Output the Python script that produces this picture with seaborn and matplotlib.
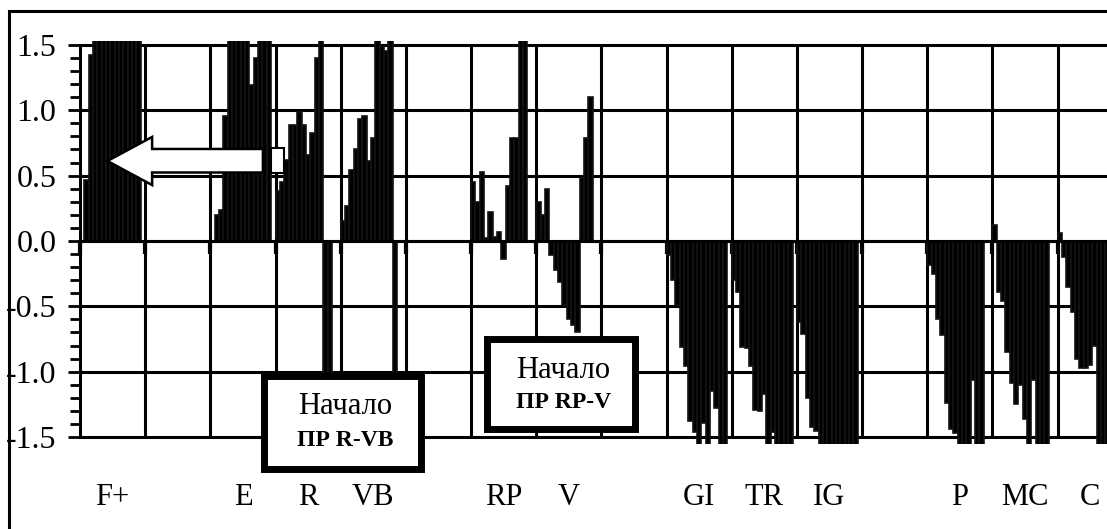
import numpy as np
import pandas as pd
import seaborn as sns
import matplotlib.pyplot as plt
from matplotlib.patches import Rectangle, Polygon

# category slots along the axis (blank ones are spacer columns)
categories = ["F+", "", "E", "R", "VB", "", "RP", "V", "", "GI", "TR", "IG", "", "P", "MC", "C"]

# 15 bars per slot (anything past +-1.5 is clipped by the axis)
f_plus = [0.0, 0.47, 1.42, 1.9, 2.2, 2.0, 2.4, 1.8, 2.1, 2.3, 1.9, 2.0, 1.7, 1.8, 0.0]
e_vals = [0.0, 0.20, 0.24, 0.96, 1.8, 2.1, 1.9, 2.2, 1.7, 1.19, 1.40, 1.9, 2.0, 1.7, 0.0]
r_vals = [0.38, 0.45, 0.62, 0.89, 0.89, 0.99, 0.89, 0.66, 0.83, 1.40, 1.8, -1.8, -1.9, 0.0, 0.0]
vb_vals = [0.15, 0.27, 0.54, 0.70, 0.93, 0.96, 0.61, 0.79, 1.8, 1.49, 1.45, 1.9, -1.8, 0.0, 0.0]
rp_vals = [0.45, 0.30, 0.53, 0.02, 0.22, 0.03, 0.07, -0.14, 0.42, 0.79, 0.79, 1.9, 1.7, 0.0, 0.0]
v_vals = [0.30, 0.20, 0.40, -0.11, -0.22, -0.31, -0.49, -0.60, -0.64, -0.70, 0.48, 0.79, 1.10, 0.0, 0.0]
gi_vals = [-0.11, -0.30, -0.49, -0.81, -0.96, -1.38, -1.46, -1.8, -1.39, -1.9, -1.15, -1.28, -1.7, -1.8, 0.0]
tr_vals = [-0.30, -0.39, -0.81, -0.82, -0.96, -1.29, -1.30, -1.17, -1.8, -1.46, -1.9, -1.7, -2.0, -1.8, 0.0]
ig_vals = [-0.62, -0.71, -1.20, -1.42, -1.45, -1.8, -2.0, -1.9, -2.2, -1.8, -2.1, -1.9, -1.7, -1.8, 0.0]
p_vals = [-0.18, -0.25, -0.60, -0.72, -1.24, -1.44, -1.47, -1.8, -2.0, -1.7, -1.06, -1.9, -1.8, 0.0, 0.0]
mc_vals = [0.12, -0.39, -0.46, -0.85, -1.09, -1.25, -1.10, -1.36, -1.8, -1.06, -1.9, -2.0, -1.7, 0.0, 0.0]
c_vals = [0.06, -0.12, -0.35, -0.54, -0.90, -0.97, -0.97, -0.95, -0.80, -1.7, -1.8, -1.6, -1.4, 0.0, 0.0]
blank = [0.0] * 15

yticks = [-1.5, -1.0, -0.5, 0.0, 0.5, 1.0, 1.5]
ytick_labels = ["-1.5", "-1.0", "-0.5", "0.0", "0.5", "1.0", "1.5"]

slots = [f_plus, blank, e_vals, r_vals, vb_vals, blank, rp_vals, v_vals, blank,
         gi_vals, tr_vals, ig_vals, blank, p_vals, mc_vals, c_vals]
n_per = 15
values = [val for slot in slots for val in slot]
df = pd.DataFrame({"x": np.arange(len(values)), "value": values})

sns.set_theme(style="white")
plt.rcParams["font.family"] = ["Liberation Serif", "DejaVu Serif"]
plt.rcParams["axes.unicode_minus"] = False

W, H = 1107, 529
fig = plt.figure(figsize=(W / 100, H / 100), dpi=100)
ax = fig.add_axes([80 / W, 1 - 443.6 / H, 1042.7 / W, 402.6 / H])

sns.barplot(data=df, x="x", y="value", native_scale=True, width=1.0, color="black",
            edgecolor="#141414", linewidth=1.2, errorbar=None, ax=ax, zorder=2)

bounds = np.arange(len(categories) + 1) * n_per - 0.5
ax.set_xlim(bounds[0], bounds[-1])
ax.set_ylim(-1.55, 1.53)
ax.set_xlabel("")
ax.set_ylabel("")

# grid
ax.vlines(bounds[1:], -1.5, 1.5, color="black", lw=2.2, zorder=1)
ax.hlines(yticks, bounds[0], bounds[-1], color="black", lw=2.2, zorder=1)

# axes
for s in ["top", "right"]:
    ax.spines[s].set_visible(False)
ax.spines["left"].set_bounds(-1.5, 1.5)
ax.spines["left"].set_linewidth(2.2)
ax.spines["left"].set_color("black")
ax.spines["bottom"].set_position(("data", 0))
ax.spines["bottom"].set_linewidth(2.2)
ax.spines["bottom"].set_color("black")

ax.set_yticks(yticks)
ax.set_yticklabels(ytick_labels)
ax.set_yticks(np.round(np.arange(-1.5, 1.51, 0.1), 2), minor=True)
ax.tick_params(axis="y", which="major", left=True, direction="out", length=9, width=2,
               labelsize=23, pad=8, colors="black")
ax.tick_params(axis="y", which="minor", left=True, direction="out", length=7, width=2,
               colors="black")
ax.set_xticks(bounds)
ax.tick_params(axis="x", which="major", bottom=True, direction="out", length=9, width=3,
               labelbottom=False, colors="black")

# category labels under the plot
for k, lab in enumerate(categories):
    if lab:
        ax.text(k * n_per + (n_per - 1) / 2, -0.133, lab, transform=ax.get_xaxis_transform(),
                ha="center", va="center", fontsize=22, color="black")

# white arrow pointing left
arrow = Polygon([(5.8, 0.612), (16.1, 0.796), (16.1, 0.704), (41.6, 0.704),
                 (41.6, 0.524), (16.1, 0.524), (16.1, 0.428)],
                closed=True, facecolor="white", edgecolor="black", lw=1.8, zorder=5)
ax.add_patch(arrow)
ax.add_patch(Rectangle((43.5, 0.52), 2.95, 0.19, facecolor="white",
                       edgecolor="black", lw=1.5, zorder=5))


def fig_box(x0, y0, x1, y1):
    fig.add_artist(Rectangle((x0 / W, 1 - y1 / H), (x1 - x0) / W, (y1 - y0) / H,
                             transform=fig.transFigure, facecolor="white",
                             edgecolor="black", lw=5, zorder=10))


def fig_text(x, y, s, **kw):
    fig.text(x / W, 1 - y / H, s, ha="center", va="center", color="black", zorder=11, **kw)


fig_box(263.5, 375.5, 420.5, 468.5)
fig_text(345, 407, "Начало", fontsize=22)
fig_text(345, 441, "ПР R-VB", fontsize=17, fontweight="bold")

fig_box(486.5, 338.5, 634.5, 428.5)
fig_text(563, 370, "Начало", fontsize=22)
fig_text(564, 402, "ПР RP-V", fontsize=17, fontweight="bold")

# outer frame (cut off at the right and bottom)
fig.add_artist(Rectangle((8.8 / W, -0.1), 1.5, 1.1 - 11.3 / H, transform=fig.transFigure,
                         fill=False, edgecolor="black", lw=2.2, zorder=12))

fig.savefig("out.png", dpi=100)
